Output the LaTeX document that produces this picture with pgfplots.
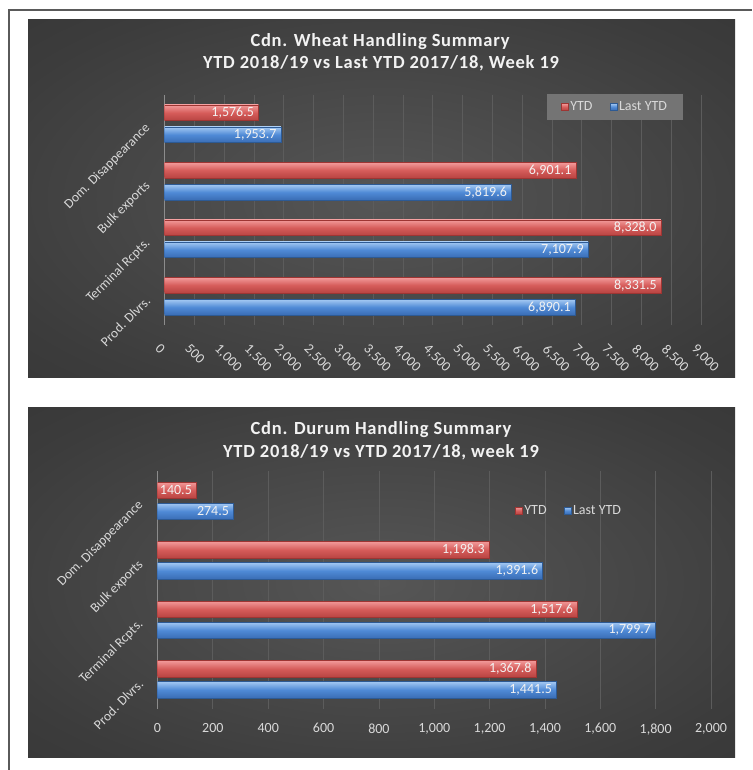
\documentclass[border=0pt]{standalone}
\usepackage{pgfplots}
\pgfplotsset{compat=1.18}
\usepackage{fontspec}
\setmainfont{Carlito}
\newfontfamily\titlefont[LetterSpace=4]{Carlito}
\definecolor{bgin}{HTML}{565656}
\definecolor{bgmid}{HTML}{3C3C3C}
\definecolor{bgout}{HTML}{242424}
\definecolor{gridc}{HTML}{5C5C5C}
\definecolor{axc}{HTML}{8C8C8C}
\definecolor{txt}{HTML}{D9D9D9}
\definecolor{ttl}{HTML}{F2F2F2}
\definecolor{rtop}{HTML}{F29A9A}
\definecolor{rmid}{HTML}{D65C5A}
\definecolor{rbot}{HTML}{B84442}
\definecolor{rdraw}{HTML}{9E3533}
\definecolor{btop}{HTML}{A3C8F2}
\definecolor{bmid}{HTML}{4F8AD6}
\definecolor{bbot}{HTML}{3A6DB5}
\definecolor{bdraw}{HTML}{2D5A94}
\definecolor{legbox}{HTML}{747474}
\definecolor{framec}{HTML}{5A5A5A}
\pgfdeclareradialshading{bgshade}{\pgfpoint{0bp}{0bp}}{color(0bp)=(bgin); color(30bp)=(bgmid); color(72bp)=(bgout)}

\pgfplotsset{
  hb/.style={
    xbar, scale only axis, ymin=-0.5, ymax=3.5, xmin=0,
    ytick={0,1,2,3},
    yticklabels={Prod. Dlvrs., Terminal Rcpts., Bulk exports, Dom. Disappearance},
    axis x line*=bottom, axis y line*=left,
    x axis line style={draw=none},
    y axis line style={draw=axc, line width=1.2pt, -},
    major tick length=0pt,
    xmajorgrids, major grid style={color=gridc, line width=0.8pt},
    /pgf/number format/assume math mode=true,
    /pgf/number format/1000 sep={,},
    ticklabel style={text=txt, font=\fontsize{14}{16}\selectfont},
    yticklabel style={xshift=-14pt, yshift=0pt, rotate=45, anchor=east, font=\fontsize{13.5}{16}\selectfont},
    point meta=x,
    nodes near coords={\pgfmathprintnumber[fixed, fixed zerofill, precision=1, 1000 sep={,}, assume math mode=true]{\pgfplotspointmeta}},
    every node near coord/.append style={anchor=east, text=ttl, font=\fontsize{14}{16}\selectfont, xshift=-1pt},
    legend columns=2,
    legend style={draw=none, text=txt, font=\fontsize{14}{16}\selectfont,
      /tikz/every even column/.append style={column sep=16pt},
      nodes={inner sep=1.5pt}},
    legend image code/.code={\draw[##1, line width=0.4pt] (0pt,-3.5pt) rectangle (7pt,3.5pt);},
  },
  ytdst/.style={draw=rdraw, top color=rtop, bottom color=rbot, middle color=rmid},
  lastst/.style={draw=bdraw, top color=btop, bottom color=bbot, middle color=bmid},
}
% one bar: style, width, shift, coordinate
\newcommand{\onebar}[4]{\addplot[#1, bar width=#2, bar shift=#3, forget plot] coordinates {#4};}

\begin{document}
\begin{tikzpicture}[x=1pt, y=1pt]
\useasboundingbox (0,0) rectangle (752,770);
% frame lines
\draw[framec, line width=1.6pt] (8.8,0) -- (8.8,760) -- (752,760);
% backgrounds
\shade[shading=bgshade] (28,392) rectangle (735,750);
\shade[shading=bgshade] (28,12) rectangle (735,362);
% titles
\node[text=ttl, font=\titlefont\bfseries\fontsize{18.5}{21}\selectfont] at (380,728) {Cdn. Wheat Handling Summary};
\node[text=ttl, font=\titlefont\bfseries\fontsize{18.5}{21}\selectfont] at (381,707) {YTD 2018/19 vs Last YTD 2017/18, Week 19};
\node[text=ttl, font=\titlefont\bfseries\fontsize{18.5}{21}\selectfont] at (381,340) {Cdn. Durum Handling Summary};
\node[text=ttl, font=\titlefont\bfseries\fontsize{18.5}{21}\selectfont] at (381,318) {YTD 2018/19 vs YTD 2017/18, week 19};

% top chart
\begin{axis}[hb, at={(164.5pt,445pt)}, anchor=south west, width=536.5pt, height=230pt,
  xmax=9000, xtick distance=500,
  xticklabel style={rotate=-45, anchor=north west, yshift=-12pt, xshift=7pt},
  legend style={at={(0.8397,0.948)}, anchor=center, fill=legbox, inner xsep=14pt, inner ysep=6pt}]
\onebar{ytdst}{15.5pt}{11pt}{(8331.5,0)}
\onebar{ytdst}{15.5pt}{11pt}{(8328.0,1)}
\onebar{ytdst}{15.5pt}{11pt}{(6901.1,2)}
\onebar{ytdst}{15.5pt}{11pt}{(1576.5,3)}
\onebar{lastst}{15.5pt}{-11pt}{(6890.1,0)}
\onebar{lastst}{15.5pt}{-11pt}{(7107.9,1)}
\onebar{lastst}{15.5pt}{-11pt}{(5819.6,2)}
\onebar{lastst}{15.5pt}{-11pt}{(1953.7,3)}
\addlegendimage{ytdst}\addlegendentry{YTD}
\addlegendimage{lastst}\addlegendentry{Last YTD}
\end{axis}

% bottom chart
\begin{axis}[hb, at={(157.5pt,61pt)}, anchor=south west, width=553.5pt, height=238pt,
  xmax=2000, xtick distance=200,
  xticklabel style={yshift=-11pt},
  legend style={at={(0.7435,0.833)}, anchor=center, fill=none}]
\onebar{ytdst}{16.5pt}{10.5pt}{(1367.8,0)}
\onebar{ytdst}{16.5pt}{10.5pt}{(1517.6,1)}
\onebar{ytdst}{16.5pt}{10.5pt}{(1198.3,2)}
\onebar{ytdst}{16.5pt}{10.5pt}{(140.5,3)}
\onebar{lastst}{16.5pt}{-10.5pt}{(1441.5,0)}
\onebar{lastst}{16.5pt}{-10.5pt}{(1799.7,1)}
\onebar{lastst}{16.5pt}{-10.5pt}{(1391.6,2)}
\onebar{lastst}{16.5pt}{-10.5pt}{(274.5,3)}
\addlegendimage{ytdst}\addlegendentry{YTD}
\addlegendimage{lastst}\addlegendentry{Last YTD}
\end{axis}
\end{tikzpicture}
\end{document}
